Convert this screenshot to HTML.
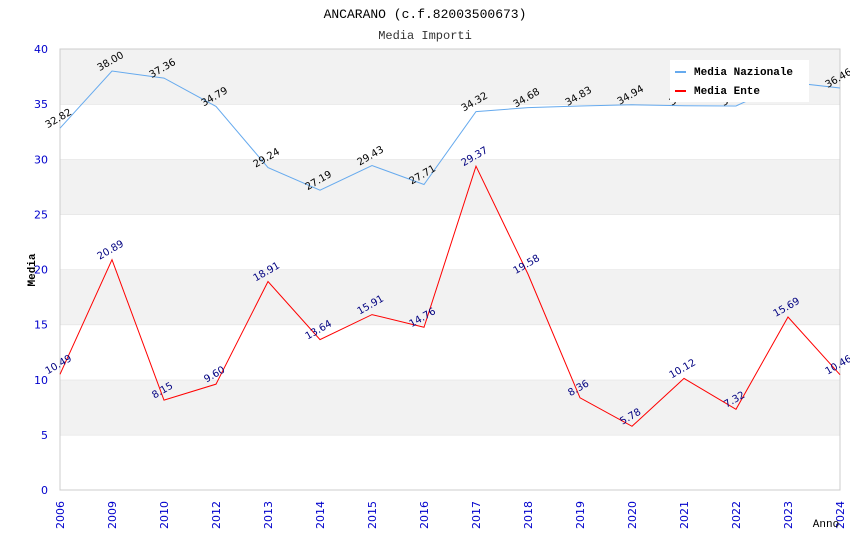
<!DOCTYPE html>
<html><head><meta charset="utf-8"><style>
body{margin:0;background:#fff;}
svg{display:block;font-family:"Liberation Mono","DejaVu Sans Mono",monospace;}
.sans{font-family:"DejaVu Sans","Liberation Sans",sans-serif;}
</style></head><body>
<svg id="chart" width="850" height="550">
<text x="425" y="18" text-anchor="middle" font-size="13" fill="#000">ANCARANO (c.f.82003500673)</text>
<text x="425" y="39" text-anchor="middle" font-size="12" fill="#333">Media Importi</text>
<g id="bands"></g><g id="axes"></g><g id="series"></g>
<text transform="translate(35,270) rotate(-90)" text-anchor="middle" font-size="11" font-weight="bold">Media</text>
<text x="826" y="527" text-anchor="middle" font-size="11">Anno</text>
<g>
<rect x="670" y="60" width="139" height="42" fill="#fff"/>
<line x1="675" y1="72" x2="686" y2="72" stroke="#66aaee" stroke-width="2"/>
<text x="694" y="75" font-size="11" font-weight="bold">Media Nazionale</text>
<line x1="675" y1="91" x2="686" y2="91" stroke="#f00" stroke-width="2"/>
<text x="694" y="94" font-size="11" font-weight="bold">Media Ente</text>
</g>
</svg>
<script>
const categories=["2006","2009","2010","2012","2013","2014","2015","2016","2017","2018","2019","2020","2021","2022","2023","2024"];
const nazionale=[32.82,38.00,37.36,34.79,29.24,27.19,29.43,27.71,34.32,34.68,34.83,34.94,34.85,34.83,37.00,36.46];
const ente=[10.49,20.89,8.15,9.60,18.91,13.64,15.91,14.76,29.37,19.58,8.36,5.78,10.12,7.32,15.69,10.46];
const yTicks=[0,5,10,15,20,25,30,35,40];
const L=60,R=840,T=49,B=490,ymax=40;
const ns="http://www.w3.org/2000/svg";
const xs=i=>L+i*(R-L)/(categories.length-1);
const ys=v=>B-v*(B-T)/ymax;
function mk(tag,attrs,parent,text){const e=document.createElementNS(ns,tag);for(const k in attrs)e.setAttribute(k,attrs[k]);if(text!==undefined)e.textContent=text;parent.appendChild(e);return e;}
const bands=document.getElementById('bands'),axes=document.getElementById('axes'),series=document.getElementById('series');
for(let i=0;i<yTicks.length-1;i++){
 const a=yTicks[i],b=yTicks[i+1];
 const r=mk('rect',{x:L,y:ys(b),width:R-L,height:ys(a)-ys(b),fill:(i%2===1)?'#f2f2f2':'#fff'},bands);
 
 
 const g=mk('line',{x1:L,x2:R,y1:ys(b),y2:ys(b),stroke:'#ddd'},bands);
 
 
}
mk('rect',{x:L,y:T,width:R-L,height:B-T,fill:'none',stroke:'#ccc'},axes);
yTicks.forEach(v=>{
 const t=mk('text',{x:L-12,y:ys(v)+4,'text-anchor':'end','font-size':11,fill:'#0000cc',class:'sans'},axes,v);
 
 
});
categories.forEach((c,i)=>{
 const t=mk('text',{transform:`translate(${xs(i)+4},${B+39}) rotate(-90)`,'font-size':11,fill:'#0000cc',class:'sans'},axes,c);
 
 
});
function draw(vals,color,lc,name){
 const p=mk('polyline',{points:vals.map((v,i)=>xs(i)+','+ys(v)).join(' '),fill:'none',stroke:color,'stroke-width':1},series);
 
 
 vals.forEach((v,i)=>{
  const t=mk('text',{transform:`translate(${xs(i)},${ys(v)-7}) rotate(-30)`,'text-anchor':'middle','font-size':10,fill:lc,class:'sans'},series,v.toFixed(2));
  
  
 });
}
draw(nazionale,'#66aaee','#000','nazionale');
draw(ente,'#f00','#000080','ente');
</script>
</body></html>
